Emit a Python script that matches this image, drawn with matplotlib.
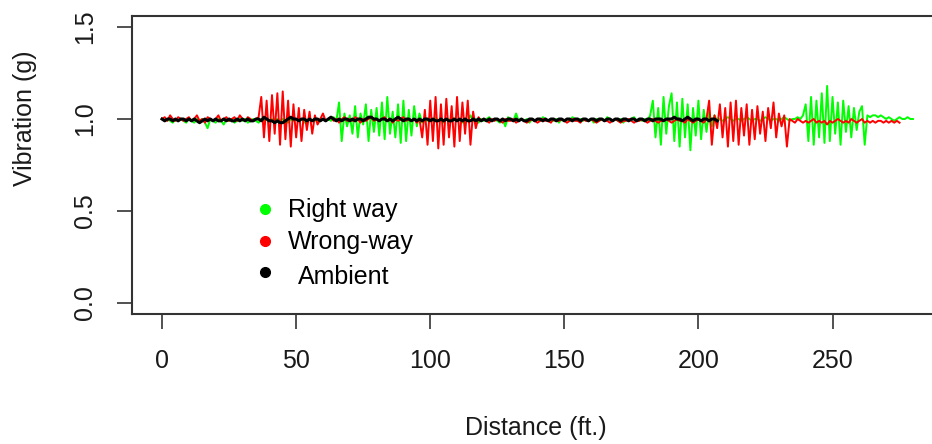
import numpy as np
import matplotlib
matplotlib.use("Agg")
import matplotlib.pyplot as plt

# vibration readings (g), one sample per foot of distance
right_way = [
    1.00, 0.99, 1.00, 0.99, 0.98, 1.00, 0.99, 1.00, 0.99, 0.98,
    1.00, 0.99, 0.98, 1.00, 0.99, 1.00, 0.98, 0.95, 1.00, 0.99,
    0.98, 1.00, 0.99, 0.97, 1.00, 0.99, 1.00, 0.98, 0.99, 1.00,
    0.99, 1.00, 0.98, 0.99, 1.00, 0.99, 0.98, 1.00, 0.99, 1.00,
    0.99, 1.00, 0.98, 1.00, 0.99, 1.00, 0.99, 0.98, 1.00, 0.99,
    1.00, 0.99, 1.00, 0.98, 0.99, 1.00, 0.99, 1.00, 0.98, 0.99,
    1.00, 0.99, 1.00, 0.99, 1.01, 0.99, 1.09, 0.88, 1.03, 0.96,
    1.02, 0.92, 1.07, 0.90, 1.03, 0.97, 1.08, 0.88, 1.05, 0.93,
    1.06, 0.91, 1.09, 0.89, 1.12, 0.92, 1.04, 0.90, 1.08, 0.87,
    1.10, 0.88, 1.05, 0.91, 1.07, 0.96, 1.03, 0.98, 1.01, 0.99,
    1.00, 0.99, 1.01, 0.99, 1.00, 0.98, 1.00, 0.99, 1.01, 1.00,
    0.99, 1.00, 0.98, 1.00, 0.99, 1.02, 0.99, 1.00, 0.98, 1.00,
    0.99, 1.00, 1.01, 0.99, 1.00, 0.99, 0.98, 1.00, 0.96, 1.01,
    1.00, 0.99, 1.03, 0.99, 1.00, 0.99, 1.00, 0.98, 1.00, 0.99,
    1.00, 0.99, 1.01, 1.00, 0.99, 1.00, 0.99, 1.00, 0.98, 1.00,
    0.99, 1.00, 0.99, 1.01, 1.00, 0.99, 1.00, 0.99, 1.00, 0.99,
    1.00, 0.98, 1.00, 0.99, 1.00, 0.99, 1.01, 1.00, 0.99, 1.00,
    0.99, 1.00, 0.98, 1.00, 0.99, 1.00, 1.01, 0.99, 1.00, 0.99,
    1.00, 0.99, 1.02, 1.10, 0.90, 1.06, 0.86, 1.12, 0.92, 1.07,
    1.14, 0.88, 1.09, 0.85, 1.11, 0.90, 1.08, 0.83, 1.06, 0.91,
    1.10, 0.89, 1.05, 0.93, 1.04, 0.96, 1.02, 0.99, 1.00, 0.99,
    1.00, 1.01, 1.00, 0.99, 1.00, 1.00, 0.99, 1.00, 1.01, 1.00,
    0.99, 1.00, 1.00, 0.99, 1.00, 1.01, 1.00, 0.99, 1.00, 1.00,
    0.99, 1.00, 1.01, 1.00, 0.99, 1.00, 1.00, 1.01, 1.00, 1.02,
    1.08, 0.88, 1.12, 0.86, 1.10, 0.90, 1.14, 0.87, 1.18, 0.88,
    1.12, 0.92, 1.09, 0.86, 1.10, 0.93, 1.07, 0.90, 1.06, 0.94,
    1.04, 1.07, 0.86, 1.02, 1.01, 1.02, 1.02, 1.01, 1.02, 1.01,
    1.00, 1.01, 1.00, 0.99, 1.00, 1.01, 1.00, 1.00, 1.01, 1.00,
    1.00,
]

wrong_way = [
    1.00, 1.01, 0.99, 1.02, 1.00, 0.99, 1.01, 1.00, 0.99, 1.00,
    1.01, 0.99, 1.00, 1.02, 0.99, 1.00, 0.98, 1.01, 1.00, 0.99,
    1.00, 1.02, 0.99, 1.00, 1.01, 0.99, 1.00, 1.01, 0.99, 1.02,
    1.00, 0.99, 1.01, 1.00, 0.99, 1.00, 1.01, 1.12, 0.90, 1.10,
    0.88, 1.13, 0.92, 1.14, 0.86, 1.15, 0.89, 1.10, 0.85, 1.08,
    0.90, 1.06, 0.88, 1.05, 0.94, 1.04, 0.92, 1.02, 0.97, 1.00,
    1.03, 0.99, 1.00, 1.01, 0.99, 1.00, 0.98, 1.00, 1.01, 0.99,
    1.00, 0.99, 1.01, 1.00, 0.98, 1.00, 0.99, 1.00, 1.01, 0.99,
    1.00, 0.99, 1.00, 1.01, 0.99, 1.00, 0.98, 1.00, 0.99, 1.00,
    1.01, 0.99, 1.00, 0.99, 1.00, 0.98, 1.00, 0.90, 1.05, 0.86,
    1.10, 0.88, 1.12, 0.84, 1.08, 0.86, 1.11, 0.90, 1.07, 0.85,
    1.12, 0.88, 1.09, 0.92, 1.10, 0.86, 1.04, 0.95, 1.01, 0.99,
    1.00, 0.99, 0.98, 1.00, 0.99, 1.00, 0.99, 0.98, 1.00, 0.99,
    0.99, 1.00, 0.98, 0.99, 1.00, 0.99, 0.98, 0.99, 1.00, 0.99,
    0.98, 0.99, 1.00, 0.99, 0.99, 0.98, 1.00, 0.99, 0.99, 1.00,
    0.99, 0.98, 0.99, 1.00, 0.99, 0.99, 0.98, 1.00, 0.99, 0.99,
    1.00, 0.99, 0.98, 0.99, 1.00, 0.99, 0.99, 0.98, 0.99, 1.00,
    0.99, 0.98, 0.99, 0.99, 1.00, 0.99, 0.98, 0.99, 0.99, 1.00,
    0.99, 0.98, 0.99, 1.00, 0.99, 0.98, 0.99, 0.99, 1.00, 0.99,
    0.98, 0.99, 1.00, 0.99, 0.99, 0.98, 1.00, 0.99, 0.98, 0.99,
    1.00, 0.99, 0.98, 1.00, 1.10, 0.86, 1.02, 0.95, 1.08, 0.90,
    1.06, 0.85, 1.09, 0.88, 1.10, 0.86, 1.06, 0.91, 1.08, 0.86,
    1.05, 0.89, 1.07, 0.92, 1.04, 0.88, 1.06, 0.95, 1.09, 0.90,
    1.03, 0.96, 1.02, 0.85, 1.00, 0.99, 0.98, 1.00, 0.99, 0.98,
    0.99, 0.98, 0.99, 1.00, 0.98, 0.99, 0.98, 0.99, 0.97, 0.99,
    0.98, 0.99, 1.00, 0.99, 0.98, 0.99, 0.98, 1.00, 0.99, 0.98,
    0.99, 1.00, 0.98, 0.99, 0.98, 0.99, 0.98, 0.99, 0.99, 0.98,
    0.99, 0.98, 0.99, 0.98, 0.99, 0.98,
]

ambient = [
    1.00, 0.99, 1.00, 1.00, 0.99, 1.00, 0.99, 1.00, 1.00, 0.99,
    1.00, 0.99, 1.00, 0.99, 0.98, 0.99, 1.00, 0.99, 1.00, 0.99,
    1.00, 0.99, 0.99, 1.00, 0.99, 1.00, 0.99, 0.99, 1.00, 0.99,
    1.00, 0.99, 1.00, 0.99, 0.99, 1.00, 1.00, 0.99, 1.01, 1.00,
    0.99, 0.99, 0.98, 0.99, 0.98, 0.98, 0.99, 1.00, 1.01, 1.00,
    1.00, 0.99, 1.00, 1.00, 0.99, 1.00, 0.99, 1.00, 1.00, 0.99,
    1.00, 0.99, 1.00, 1.01, 1.00, 0.99, 1.00, 0.99, 1.00, 1.00,
    0.99, 1.00, 0.99, 1.00, 1.00, 0.99, 1.00, 1.01, 1.01, 1.00,
    1.00, 0.99, 1.00, 1.00, 0.99, 1.00, 0.99, 1.00, 1.01, 1.00,
    0.99, 1.00, 1.00, 0.99, 1.00, 0.99, 1.00, 0.99, 1.00, 1.00,
    0.99, 1.00, 0.99, 0.99, 1.00, 0.99, 1.00, 0.99, 0.99, 1.00,
    0.99, 1.00, 0.99, 1.00, 0.99, 0.99, 1.00, 0.99, 1.00, 0.99,
    1.00, 0.99, 1.00, 0.99, 1.00, 1.00, 0.99, 1.00, 0.99, 1.00,
    1.00, 0.99, 1.00, 0.99, 1.00, 0.99, 0.99, 1.00, 1.00, 0.99,
    1.00, 1.00, 0.99, 1.00, 0.99, 1.00, 1.00, 0.99, 1.00, 1.00,
    0.99, 1.00, 1.00, 0.99, 1.00, 1.00, 0.99, 1.00, 1.00, 0.99,
    1.00, 1.00, 0.99, 1.00, 1.00, 0.99, 1.00, 1.00, 0.99, 1.00,
    1.00, 0.99, 1.00, 1.00, 0.99, 1.00, 1.00, 0.99, 1.00, 1.00,
    0.99, 1.00, 1.00, 0.99, 1.00, 1.00, 1.00, 0.99, 1.00, 1.00,
    1.00, 1.01, 1.00, 1.00, 0.99, 1.00, 1.01, 1.00, 0.99, 1.00,
    1.00, 0.99, 1.00, 1.00, 0.99, 1.00, 1.00, 0.99,
]

step_ft = 1.0
x_ticks = [0, 50, 100, 150, 200, 250]
y_ticks = [0.0, 0.5, 1.0, 1.5]
labels = ["Right way", "Wrong-way", "Ambient"]
colors = ["#00ff00", "#ff0000", "black"]

plt.rcParams['font.family'] = ['Liberation Sans', 'DejaVu Sans']

fig = plt.figure(figsize=(9.32, 4.44), dpi=100)
# plot box runs past the right edge of the picture, like the cropped original
ax = fig.add_axes([132 / 932, 130 / 444, 811 / 932, 298 / 444])

ax.plot(np.arange(len(right_way)) * step_ft, right_way, color=colors[0], lw=1.4)
ax.plot(np.arange(len(wrong_way)) * step_ft, wrong_way, color=colors[1], lw=1.4)
ax.plot(np.arange(len(ambient)) * step_ft, ambient, color=colors[2], lw=2.2)

ax.set_xlim(-11.2, 291.2)
ax.set_ylim(-0.06, 1.56)
ax.set_xticks(x_ticks)
ax.set_xticklabels([str(t) for t in x_ticks])
ax.set_yticks(y_ticks)
ax.set_yticklabels([f"{t:.1f}" for t in y_ticks], rotation=90, va='center')

for s in ax.spines.values():
    s.set_color('#333333')
    s.set_linewidth(1.5)
ax.tick_params(direction='out', length=11, width=1.2, color='#333333',
               labelsize=18, labelcolor='#1a1a1a', pad=14)

fig.text(536 / 932, 16 / 444, "Distance (ft.)", ha='center', va='center',
         fontsize=18, color='#1a1a1a')
fig.text(25 / 932, 1 - 118 / 444, "Vibration (g)", ha='center', va='center',
         rotation=90, fontsize=18, color='#1a1a1a')

# legend drawn by hand, no box, R style
leg_y = [0.512, 0.339, 0.166]
leg_text_y = [0.505, 0.332, 0.14]
leg_text_x = [47.0, 47.0, 50.5]
for lab, col, ly, ty, tx in zip(labels, colors, leg_y, leg_text_y, leg_text_x):
    ax.plot([38.4], [ly], 'o', color=col, markersize=7)
    ax.text(tx, ty, lab, ha='left', va='center', fontsize=18, color='black')

fig.savefig("out.png", dpi=100)
